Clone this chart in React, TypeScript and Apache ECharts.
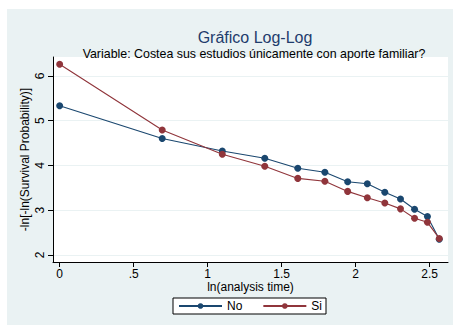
import React, { useEffect, useRef } from "react";
import * as echarts from "echarts";

const lnTime = [0, 0.693, 1.099, 1.386, 1.609, 1.792, 1.946, 2.079, 2.197, 2.303, 2.398, 2.485, 2.565];
const seriesNo = [5.33, 4.6, 4.32, 4.16, 3.935, 3.846, 3.636, 3.59, 3.4, 3.25, 3.02, 2.86, 2.35];
const seriesSi = [6.26, 4.79, 4.25, 3.98, 3.71, 3.645, 3.42, 3.28, 3.16, 3.03, 2.82, 2.73, 2.37];
const xTicks = [0, 0.5, 1, 1.5, 2, 2.5];
const xTickLabels = ["0", ".5", "1", "1.5", "2", "2.5"];
const yTicks = [2, 3, 4, 5, 6];
const yTickLabels = ["2", "3", "4", "5", "6"];
const seriesNames = ["No", "Si"];

const FONT = "'Liberation Sans', Arial, Helvetica, sans-serif";
const NAVY = "#1A476F";
const MAROON = "#90353B";
const BG = "#EAF2F3";

export default function App() {
  const ref = useRef<HTMLDivElement>(null);
  useEffect(() => {
    if (!ref.current) return;
    const chart = echarts.init(ref.current, undefined, { renderer: "svg" });
    const mk = (ys: number[]) => lnTime.map((x, i) => [x, ys[i]]);
    chart.setOption({
      animation: false,
      backgroundColor: "#fff",
      textStyle: { fontFamily: FONT },
      graphic: [
        {
          type: "rect",
          left: 7,
          top: 9,
          z: -10,
          shape: { width: 446, height: 316 },
          style: { fill: BG },
          silent: true,
        },
      ],
      title: [
        {
          text: "Gráfico Log-Log",
          left: 250,
          top: 24,
          textAlign: "center",
          textStyle: { fontSize: 16, fontWeight: "normal", color: "#1E3C6C", fontFamily: FONT },
        },
        {
          text: "Variable: Costea sus estudios únicamente con aporte familiar?",
          left: 249,
          top: 43,
          textAlign: "center",
          textStyle: { fontSize: 12.4, fontWeight: "normal", color: "#000", fontFamily: FONT },
        },
      ],
      grid: {
        left: 53,
        top: 57,
        width: 395,
        height: 205,
        show: true,
        backgroundColor: "#fff",
        borderWidth: 0,
      },
      legend: {
        left: 173,
        top: 298,
        orient: "horizontal",
        padding: [2, 4, 2, 5],
        itemWidth: 43,
        itemHeight: 7,
        itemGap: 20,
        borderColor: "#000",
        borderWidth: 1,
        backgroundColor: "#fff",
        borderRadius: 0,
        textStyle: { fontSize: 12, color: "#000", fontFamily: FONT },
        data: seriesNames,
      },
      xAxis: {
        type: "value",
        min: -0.045,
        max: 2.624,
        position: "bottom",
        axisLine: { show: true, onZero: false, lineStyle: { color: "#000", width: 1 } },
        axisTick: { show: true, length: 5, customValues: xTicks, lineStyle: { color: "#000" } },
        axisLabel: {
          customValues: xTicks,
          formatter: (v: number) => {
            const i = xTicks.indexOf(v);
            return i >= 0 ? xTickLabels[i] : "";
          },
          fontSize: 12,
          lineHeight: 12,
          color: "#000",
          margin: 6,
          fontFamily: FONT,
        },
        splitLine: { show: false },
        name: "ln(analysis time)",
        nameLocation: "middle",
        nameGap: 19,
        nameMoveOverlap: false,
        nameTextStyle: { fontSize: 12, lineHeight: 12, color: "#000", fontFamily: FONT },
      },
      yAxis: {
        type: "value",
        min: 1.844,
        max: 6.42,
        axisLine: { show: true, onZero: false, lineStyle: { color: "#000", width: 1 } },
        axisTick: { show: true, length: 5, customValues: yTicks, lineStyle: { color: "#000" } },
        axisLabel: {
          customValues: yTicks,
          formatter: (v: number) => {
            const i = yTicks.indexOf(v);
            return i >= 0 ? yTickLabels[i] : "";
          },
          rotate: 90,
          fontSize: 12,
          lineHeight: 12,
          color: "#000",
          margin: 7,
          fontFamily: FONT,
        },
        splitLine: { show: true, lineStyle: { color: BG, width: 1 } },
        name: "-ln[-ln(Survival Probability)]",
        nameLocation: "middle",
        nameGap: 22,
        nameRotate: 90,
        nameMoveOverlap: false,
        nameTextStyle: { fontSize: 12, lineHeight: 12, color: "#000", fontFamily: FONT },
      },
      series: [
        {
          name: seriesNames[0],
          type: "line",
          data: mk(seriesNo),
          symbol: "circle",
          symbolSize: 7,
          color: NAVY,
          lineStyle: { color: NAVY, width: 1.1 },
          itemStyle: { color: NAVY },
          z: 3,
        },
        {
          name: seriesNames[1],
          type: "line",
          data: mk(seriesSi),
          symbol: "circle",
          symbolSize: 7,
          color: MAROON,
          lineStyle: { color: MAROON, width: 1.1 },
          itemStyle: { color: MAROON },
          z: 4,
        },
      ],
    });
    return () => chart.dispose();
  }, []);
  return (
    <div
      ref={ref}
      style={{ position: "absolute", left: 0, top: 0, width: 453, height: 325 }}
    />
  );
}
